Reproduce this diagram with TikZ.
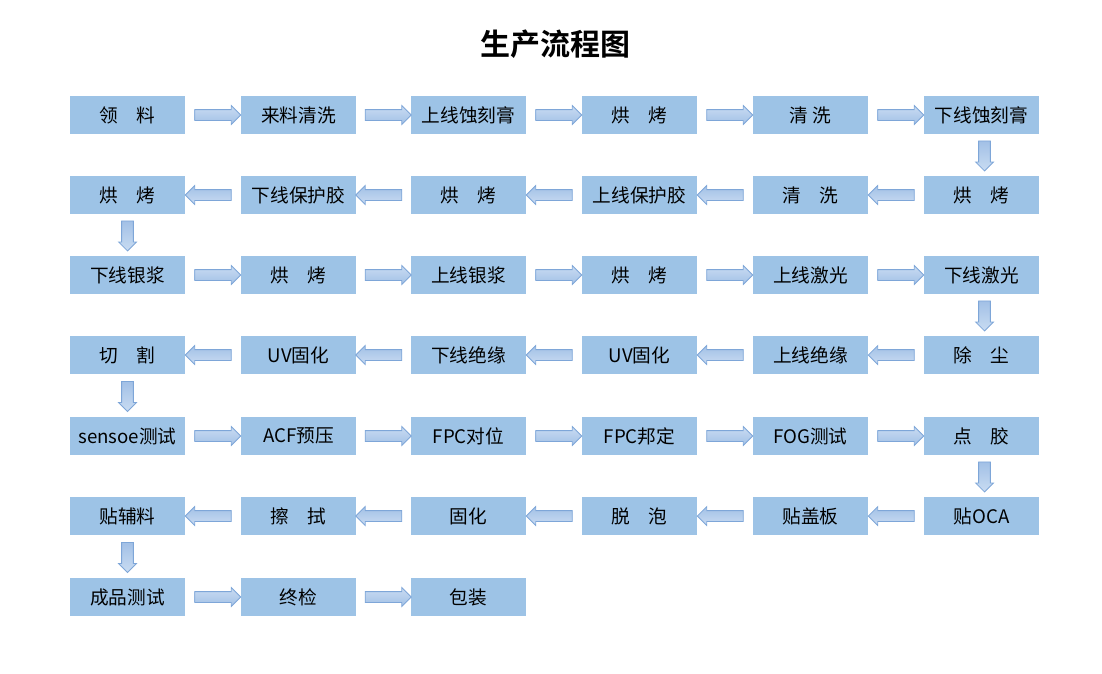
\documentclass[tikz,border=0pt]{standalone}
\usepackage{fontspec}
\setmainfont{Noto Sans CJK SC}[BoldFont={Noto Sans CJK SC Bold}]
\usetikzlibrary{shapes.arrows,calc}
\definecolor{boxblue}{HTML}{9DC3E6}
\definecolor{arrline}{HTML}{7EA6D8}
\definecolor{arrlight}{HTML}{C9DCF2}
\definecolor{arrdark}{HTML}{A2C0E6}

\begin{document}
\begin{tikzpicture}[x=0.75pt,y=-0.75pt,
  blk/.style={fill=boxblue,minimum width=86.25pt,minimum height=28.5pt,inner sep=0pt,
    font=\fontsize{14}{16}\selectfont},
  arr/.style={single arrow,draw=arrline,line width=0.6pt,inner xsep=0pt},
  rarr/.style={arr,minimum height=34.5pt,inner ysep=3.75pt,single arrow head extend=3pt,
    top color=arrlight,bottom color=arrdark},
  larr/.style={arr,rotate=180,minimum height=34.5pt,inner ysep=3.75pt,single arrow head extend=3pt,
    top color=arrdark,bottom color=arrlight},
  darr/.style={arr,rotate=-90,minimum height=22.5pt,inner ysep=4.1pt,
    single arrow head extend=2.3pt,top color=arrdark,bottom color=arrlight}]
 \useasboundingbox (0,0) rectangle (1102,674);
 \node[font=\bfseries\fontsize{22.5}{26}\selectfont] (title) at (555,44) {生产流程图};
 % row 1
 \node[blk] (a1) at (127.5,115) {领　料};
 \node[blk] (a2) at (298.5,115) {来料清洗};
 \node[blk] (a3) at (468.5,115) {上线蚀刻膏};
 \node[blk] (a4) at (639.5,115) {烘　烤};
 \node[blk] (a5) at (810.5,115) {清 洗};
 \node[blk] (a6) at (981.5,115) {下线蚀刻膏};
 % row 2
 \node[blk] (b6) at (981.5,195) {烘　烤};
 \node[blk] (b5) at (810.5,195) {清　洗};
 \node[blk] (b4) at (639.5,195) {上线保护胶};
 \node[blk] (b3) at (468.5,195) {烘　烤};
 \node[blk] (b2) at (298.5,195) {下线保护胶};
 \node[blk] (b1) at (127.5,195) {烘　烤};
 % row 3
 \node[blk] (c1) at (127.5,275) {下线银浆};
 \node[blk] (c2) at (298.5,275) {烘　烤};
 \node[blk] (c3) at (468.5,275) {上线银浆};
 \node[blk] (c4) at (639.5,275) {烘　烤};
 \node[blk] (c5) at (810.5,275) {上线激光};
 \node[blk] (c6) at (981.5,275) {下线激光};
 % row 4
 \node[blk] (d6) at (981.5,355) {除　尘};
 \node[blk] (d5) at (810.5,355) {上线绝缘};
 \node[blk] (d4) at (639.5,355) {UV固化};
 \node[blk] (d3) at (468.5,355) {下线绝缘};
 \node[blk] (d2) at (298.5,355) {UV固化};
 \node[blk] (d1) at (127.5,355) {切　割};
 % row 5
 \node[blk] (e1) at (127.5,436) {sensoe测试};
 \node[blk] (e2) at (298.5,436) {ACF预压};
 \node[blk] (e3) at (468.5,436) {FPC对位};
 \node[blk] (e4) at (639.5,436) {FPC邦定};
 \node[blk] (e5) at (810.5,436) {FOG测试};
 \node[blk] (e6) at (981.5,436) {点　胶};
 % row 6
 \node[blk] (f6) at (981.5,516) {贴OCA};
 \node[blk] (f5) at (810.5,516) {贴盖板};
 \node[blk] (f4) at (639.5,516) {脱　泡};
 \node[blk] (f3) at (468.5,516) {固化};
 \node[blk] (f2) at (298.5,516) {擦　拭};
 \node[blk] (f1) at (127.5,516) {贴辅料};
 % row 7
 \node[blk] (g1) at (127.5,597) {成品测试};
 \node[blk] (g2) at (298.5,597) {终检};
 \node[blk] (g3) at (468.5,597) {包装};
 % arrows
 \node[rarr] (a12) at ($(a1)!0.5!(a2)+(2,0)$) {};
 \node[rarr] (a23) at ($(a2)!0.5!(a3)+(2,0)$) {};
 \node[rarr] (a34) at ($(a3)!0.5!(a4)+(2,0)$) {};
 \node[rarr] (a45) at ($(a4)!0.5!(a5)+(2,0)$) {};
 \node[rarr] (a56) at ($(a5)!0.5!(a6)+(2,0)$) {};
 \node[darr] (ab6) at ($(a6)!0.5!(b6)+(3,-2)$) {};
 \node[larr] (b65) at ($(b6)!0.5!(b5)+(-2,0)$) {};
 \node[larr] (b54) at ($(b5)!0.5!(b4)+(-2,0)$) {};
 \node[larr] (b43) at ($(b4)!0.5!(b3)+(-2,0)$) {};
 \node[larr] (b32) at ($(b3)!0.5!(b2)+(-2,0)$) {};
 \node[larr] (b21) at ($(b2)!0.5!(b1)+(-2,0)$) {};
 \node[darr] (bc1) at ($(b1)!0.5!(c1)+(0,-2)$) {};
 \node[rarr] (c12) at ($(c1)!0.5!(c2)+(2,0)$) {};
 \node[rarr] (c23) at ($(c2)!0.5!(c3)+(2,0)$) {};
 \node[rarr] (c34) at ($(c3)!0.5!(c4)+(2,0)$) {};
 \node[rarr] (c45) at ($(c4)!0.5!(c5)+(2,0)$) {};
 \node[rarr] (c56) at ($(c5)!0.5!(c6)+(2,0)$) {};
 \node[darr] (cd6) at ($(c6)!0.5!(d6)+(3,-2)$) {};
 \node[larr] (d65) at ($(d6)!0.5!(d5)+(-2,0)$) {};
 \node[larr] (d54) at ($(d5)!0.5!(d4)+(-2,0)$) {};
 \node[larr] (d43) at ($(d4)!0.5!(d3)+(-2,0)$) {};
 \node[larr] (d32) at ($(d3)!0.5!(d2)+(-2,0)$) {};
 \node[larr] (d21) at ($(d2)!0.5!(d1)+(-2,0)$) {};
 \node[darr] (de1) at ($(d1)!0.5!(e1)+(0,-2)$) {};
 \node[rarr] (e12) at ($(e1)!0.5!(e2)+(2,0)$) {};
 \node[rarr] (e23) at ($(e2)!0.5!(e3)+(2,0)$) {};
 \node[rarr] (e34) at ($(e3)!0.5!(e4)+(2,0)$) {};
 \node[rarr] (e45) at ($(e4)!0.5!(e5)+(2,0)$) {};
 \node[rarr] (e56) at ($(e5)!0.5!(e6)+(2,0)$) {};
 \node[darr] (ef6) at ($(e6)!0.5!(f6)+(3,-2)$) {};
 \node[larr] (f65) at ($(f6)!0.5!(f5)+(-2,0)$) {};
 \node[larr] (f54) at ($(f5)!0.5!(f4)+(-2,0)$) {};
 \node[larr] (f43) at ($(f4)!0.5!(f3)+(-2,0)$) {};
 \node[larr] (f32) at ($(f3)!0.5!(f2)+(-2,0)$) {};
 \node[larr] (f21) at ($(f2)!0.5!(f1)+(-2,0)$) {};
 \node[darr] (fg1) at ($(f1)!0.5!(g1)+(0,-2)$) {};
 \node[rarr] (g12) at ($(g1)!0.5!(g2)+(2,0)$) {};
 \node[rarr] (g23) at ($(g2)!0.5!(g3)+(2,0)$) {};
\end{tikzpicture}
\end{document}
